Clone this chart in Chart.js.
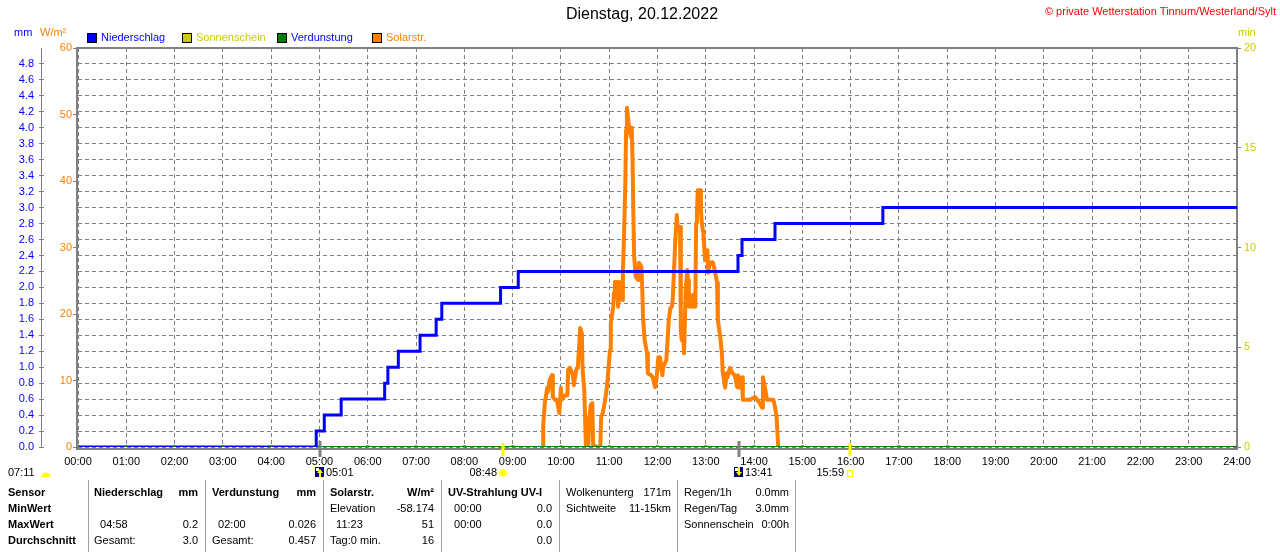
<!DOCTYPE html>
<html lang="de">
<head>
<meta charset="UTF-8">
<title>Dienstag, 20.12.2022</title>
<script src="https://cdn.jsdelivr.net/npm/chart.js@4.4.0/dist/chart.umd.min.js"></script>
<style>
html, body { margin:0; padding:0; background:#fff; }
#wrap { width:1280px; height:552px; }
</style>
</head>
<body>
<div id="wrap"><canvas id="chart" width="1280" height="552"></canvas></div>

<script>
// Zeiten in Minuten seit Mitternacht
const titel = 'Dienstag, 20.12.2022';
const copyright = '© private Wetterstation Tinnum/Westerland/Sylt';
const legendLabels = ['Niederschlag', 'Sonnenschein', 'Verdunstung', 'Solarstr.'];

// Niederschlag (mm, Tagessumme)
const rainTime = [0, 296, 306, 327, 381, 385, 398, 425, 445, 452, 525, 547, 820, 825, 866, 1000, 1440];
const rainMm   = [0, 0.2, 0.4, 0.6, 0.8, 1.0, 1.2, 1.4, 1.6, 1.8, 2.0, 2.2, 2.4, 2.6, 2.8, 3.0, 3.0];

// Verdunstung (mm)
const verdTime = [0, 60, 120, 180, 240, 300, 360, 420, 480, 540, 600, 660, 720, 780, 840, 900, 960, 1020, 1080];
const verdMm   = [0, 0, 0, 0, 0, 0, 0, 0, 0, 0, 0, 0, 0, 0, 0, 0, 0, 0, 0];
const verdEnd  = 1440;

// Solarstrahlung (W/m²)
const solarTime = [578, 578, 580, 583, 584, 586, 589, 590, 593, 595, 598, 600, 601, 605, 608, 609, 611, 615, 616, 619,
  621, 624, 626, 627, 629, 630, 631, 634, 635, 637, 639, 640, 645, 649, 650, 652, 655, 657, 658, 661,
  662, 665, 666, 667, 670, 671, 673, 676, 677, 678, 679, 680, 681, 682, 685, 687, 688, 689, 690, 691,
  693, 696, 697, 700, 701, 702, 704, 707, 708, 712, 714, 717, 719, 721, 723, 726, 727, 731, 732, 734,
  736, 738, 739, 742, 744, 745, 748, 749, 750, 752, 753, 755, 757, 758, 759, 760, 763, 764, 767, 768,
  769, 770, 773, 774, 775, 777, 779, 782, 783, 785, 788, 789, 791, 794, 795, 798, 800, 801, 804, 806,
  807, 810, 813, 816, 819, 820, 823, 825, 826, 831, 835, 841, 844, 847, 850, 851, 854, 856, 864, 866,
  868, 870];
const solarWm2 = [0, 3.3, 6.6, 8.9, 8.3, 10.1, 10.8, 7.5, 7.1, 7.1, 5.1, 8.9, 7.1, 7.8, 7.8, 11.6, 11.9, 10.8, 9.3, 11.6,
  11.9, 17.9, 17.1, 11.6, 8.6, 4.5, 0.3, 0.3, 4.1, 6.3, 6.6, 0.3, 0, 0, 4.5, 5.1, 7.1, 8.9, 10.1, 14.6,
  18.6, 21.1, 23.2, 24.8, 24.8, 21.1, 24.8, 22.1, 26.6, 30.1, 34.6, 39.7, 47.7, 51.0, 47.7, 46.6, 48.0, 43.2, 35.2, 28.6,
  25.6, 25.1, 27.7, 27.1, 24.1, 19.5, 16.1, 14.1, 11.1, 10.8, 10.5, 9.0, 10.5, 13.5, 13.5, 10.8, 12.0, 13.1, 15.0, 19.1,
  20.9, 21.1, 22.4, 30.7, 34.9, 33.1, 33.1, 17.6, 16.1, 16.5, 14.1, 23.6, 26.6, 25.1, 21.1, 22.6, 21.1, 22.9, 21.1, 33.7,
  35.2, 38.6, 38.6, 35.6, 33.7, 32.2, 28.1, 29.6, 26.2, 27.7, 27.8, 27.7, 26.6, 24.7, 19.1, 16.5, 14.1, 11.3, 8.9, 11.1,
  10.5, 11.9, 11.1, 10.8, 9.0, 10.8, 8.9, 10.5, 7.1, 7.1, 7.1, 7.5, 7.1, 6.6, 5.9, 10.5, 8.6, 7.1, 7.1, 6.0,
  4.5, 0];

// Sonne und Mond
const dayLength = '07:11';
const moonTimes = ['05:01', '13:41'];
const moonRise  = [true, false];
const sunTimes  = ['08:48', '15:59'];

// Tabelle unter dem Diagramm
const tableRows = [
  ['Sensor', 'Niederschlag', 'mm', 'Verdunstung', 'mm', 'Solarstr.', 'W/m²', 'UV-Strahlung UV-I', '', 'Wolkenunterg', '171m', 'Regen/1h', '0.0mm'],
  ['MinWert', '', '', '', '', 'Elevation', '-58.174', '  00:00', '0.0', 'Sichtweite', '11-15km', 'Regen/Tag', '3.0mm'],
  ['MaxWert', '  04:58', '0.2', '  02:00', '0.026', '  11:23', '51', '  00:00', '0.0', '', '', 'Sonnenschein', '0:00h'],
  ['Durchschnitt', 'Gesamt:', '3.0', 'Gesamt:', '0.457', 'Tag:0 min.', '16', '', '0.0', '', '', '', '']
];

const BLUE = '#0000ff', ORANGE = '#ff8000', GREEN = '#008000', OLIVE = '#cccc00', GRAY = '#808080';
const FONT = '"Liberation Sans", Arial, sans-serif';

const toMin = s => { const p = s.split(':'); return +p[0] * 60 + +p[1]; };
const fmtHM = m => String(Math.floor(m / 60)).padStart(2, '0') + ':' + String(m % 60).padStart(2, '0');
const pts = (xs, ys) => xs.map((x, i) => ({x: x, y: ys[i]}));

const deko = {
  id: 'deko',
  beforeDatasetsDraw(chart) {
    const {ctx, chartArea: a} = chart;
    ctx.save();
    ctx.strokeStyle = GRAY;
    ctx.lineWidth = 2;
    ctx.strokeRect(a.left - 1, a.top, a.right - a.left + 1, a.bottom - a.top + 2);
    // Achslinie mm
    ctx.lineWidth = 1;
    ctx.beginPath();
    ctx.moveTo(41.5, a.top);
    ctx.lineTo(41.5, a.bottom);
    ctx.stroke();
    ctx.restore();
  },
  afterDatasetsDraw(chart) {
    const {ctx, chartArea: a} = chart;
    const xs = chart.scales.x;
    ctx.save();
    ctx.lineWidth = 3;
    ctx.strokeStyle = GRAY;
    moonTimes.forEach(t => {
      const x = Math.round(xs.getPixelForValue(toMin(t)));
      ctx.beginPath(); ctx.moveTo(x, a.bottom - 6); ctx.lineTo(x, a.bottom + 10); ctx.stroke();
    });
    ctx.strokeStyle = '#ffff00';
    sunTimes.forEach(t => {
      const x = Math.round(xs.getPixelForValue(toMin(t)));
      ctx.beginPath(); ctx.moveTo(x, a.bottom - 4); ctx.lineTo(x, a.bottom + 9); ctx.stroke();
    });
    ctx.restore();
  },
  afterDraw(chart) {
    const {ctx} = chart;
    const xs = chart.scales.x;
    ctx.save();
    ctx.textBaseline = 'middle';

    // Titel und Copyright
    ctx.font = '16px ' + FONT;
    ctx.fillStyle = '#000';
    ctx.textAlign = 'center';
    ctx.fillText(titel, 642, 15);
    ctx.font = '11px ' + FONT;
    ctx.fillStyle = '#ff0000';
    ctx.textAlign = 'right';
    ctx.fillText(copyright, 1276, 12);

    // Einheiten
    ctx.textAlign = 'left';
    ctx.fillStyle = BLUE; ctx.fillText('mm', 14, 33);
    ctx.fillStyle = ORANGE; ctx.fillText('W/m²', 40, 33);
    ctx.fillStyle = OLIVE; ctx.fillText('min', 1238, 33);

    // Legende
    const boxCol = [BLUE, OLIVE, GREEN, ORANGE];
    const txtCol = [BLUE, OLIVE, BLUE, ORANGE];
    legendLabels.forEach((l, i) => {
      const bx = 87 + i * 95;
      ctx.fillStyle = boxCol[i];
      ctx.fillRect(bx, 33, 10, 10);
      ctx.strokeStyle = '#000';
      ctx.lineWidth = 1;
      ctx.strokeRect(bx + 0.5, 33.5, 9, 9);
      ctx.fillStyle = txtCol[i];
      ctx.fillText(l, bx + 14, 38);
    });

    // Sonne / Mond unter der Zeitachse
    const ey = 473;
    ctx.fillStyle = '#000';
    ctx.fillText(dayLength, 8, ey);
    ctx.fillStyle = '#ffff00';
    ctx.beginPath(); ctx.arc(46, 477, 4.5, Math.PI, 0); ctx.fill();

    moonTimes.forEach((t, i) => {
      const x = Math.round(xs.getPixelForValue(toMin(t)));
      ctx.fillStyle = '#000080';
      ctx.fillRect(x - 5, 467, 9, 10);
      ctx.fillStyle = '#ffffff';
      ctx.fillRect(x - 4, 468, 3, 3);
      ctx.fillStyle = '#ffff00';
      ctx.beginPath();
      if (moonRise[i]) {
        ctx.moveTo(x, 469); ctx.lineTo(x + 3, 473); ctx.lineTo(x - 3, 473);
        ctx.fill(); ctx.fillRect(x - 1, 472, 2, 5);
      } else {
        ctx.moveTo(x, 476); ctx.lineTo(x + 3, 472); ctx.lineTo(x - 3, 472);
        ctx.fill(); ctx.fillRect(x - 1, 467, 2, 5);
      }
      ctx.fillStyle = '#000';
      ctx.fillText(t, x + 6, ey);
    });

    ctx.textAlign = 'right';
    sunTimes.forEach((t, i) => {
      const x = Math.round(xs.getPixelForValue(toMin(t)));
      ctx.fillStyle = '#000';
      ctx.fillText(t, x - 6, ey);
      if (i === 0) {
        ctx.strokeStyle = '#ffff80';
        ctx.lineWidth = 1;
        for (let k = 0; k < 8; k++) {
          const w = k * Math.PI / 4;
          ctx.beginPath();
          ctx.moveTo(x + Math.cos(w) * 3, ey + Math.sin(w) * 3);
          ctx.lineTo(x + Math.cos(w) * 6, ey + Math.sin(w) * 6);
          ctx.stroke();
        }
        ctx.fillStyle = '#ffff00';
        ctx.beginPath(); ctx.arc(x, ey, 3.5, 0, Math.PI * 2); ctx.fill();
      } else {
        ctx.strokeStyle = '#ffff00';
        ctx.lineWidth = 1;
        ctx.strokeRect(x - 2.5, ey - 2.5, 5, 6);
      }
    });

    // Tabelle
    ctx.strokeStyle = '#a0a0a0';
    ctx.lineWidth = 1;
    [88, 205, 323, 441, 559, 677, 795].forEach(x => {
      ctx.beginPath(); ctx.moveTo(x + 0.5, 480); ctx.lineTo(x + 0.5, 552); ctx.stroke();
    });
    const colX = [8, 94, 198, 212, 316, 330, 434, 448, 552, 566, 671, 684, 789];
    const colAl = ['left', 'left', 'right', 'left', 'right', 'left', 'right', 'left', 'right', 'left', 'right', 'left', 'right'];
    ctx.fillStyle = '#000';
    tableRows.forEach((row, r) => {
      row.forEach((txt, c) => {
        if (!txt) return;
        const bold = c === 0 || (r === 0 && c <= 8);
        ctx.font = (bold ? 'bold ' : '') + '11px ' + FONT;
        ctx.textAlign = colAl[c];
        ctx.fillText(txt, colX[c], 493 + r * 16);
      });
    });
    ctx.restore();
  }
};

const ctx = document.getElementById('chart').getContext('2d');
Chart.defaults.font.family = FONT;
Chart.defaults.font.size = 11;

new Chart(ctx, {
  type: 'line',
  data: {
    datasets: [
      {label: 'Verdunstung', data: pts(verdTime, verdMm), yAxisID: 'yMm', showLine: false,
        pointStyle: 'rect', pointRadius: 2.2, pointBackgroundColor: GREEN, pointBorderWidth: 0, order: 0},
      {label: 'Niederschlag', data: pts(rainTime, rainMm), yAxisID: 'yMm', stepped: 'before',
        borderColor: BLUE, borderWidth: 3, pointRadius: 0, order: 1},
      {label: 'Verdunstung', data: pts(verdTime.concat([verdEnd]), verdMm.concat([0])), yAxisID: 'yMm',
        borderColor: GREEN, borderWidth: 2, pointRadius: 0, order: 2},
      {label: 'Solarstr.', data: pts(solarTime, solarWm2), yAxisID: 'yW',
        borderColor: ORANGE, borderWidth: 4, borderJoinStyle: 'round', pointRadius: 0, tension: 0, order: 3}
    ]
  },
  options: {
    responsive: false,
    animation: false,
    devicePixelRatio: 1,
    layout: {padding: {top: 48, bottom: 75, left: 0, right: 0}},
    plugins: {legend: {display: false}, tooltip: {enabled: false}},
    scales: {
      x: {
        type: 'linear', min: 0, max: 1440,
        afterFit: s => { s.height = 30; },
        ticks: {stepSize: 60, color: '#000', padding: 8, maxRotation: 0, autoSkip: false,
          callback: v => fmtHM(v)},
        grid: {color: GRAY, drawTicks: false},
        border: {display: false, dash: [4, 3]}
      },
      yMm: {
        position: 'left', weight: 10, min: 0, max: 5,
        afterFit: s => { s.width = 44; },
        ticks: {stepSize: 0.2, color: BLUE, padding: 5, autoSkip: false,
          callback: v => (v >= 4.99 ? '' : v.toFixed(1))},
        grid: {color: GRAY, tickLength: 5,
          tickColor: c => (c.tick && c.tick.value >= 4.99 ? 'rgba(0,0,0,0)' : GRAY)},
        border: {display: false, dash: [4, 3]}
      },
      yW: {
        position: 'left', weight: 0, min: 0, max: 60,
        afterFit: s => { s.width = 34; },
        ticks: {stepSize: 10, color: ORANGE, padding: 1, autoSkip: false},
        grid: {drawOnChartArea: false, tickColor: GRAY, tickLength: 5},
        border: {display: false}
      },
      yMin: {
        position: 'right', min: 0, max: 20,
        afterFit: s => { s.width = 43; },
        ticks: {stepSize: 5, color: OLIVE, padding: 3, autoSkip: false},
        grid: {drawOnChartArea: false, tickColor: GRAY, tickLength: 4},
        border: {display: false}
      }
    }
  },
  plugins: [deko]
});
</script>
</body>
</html>
